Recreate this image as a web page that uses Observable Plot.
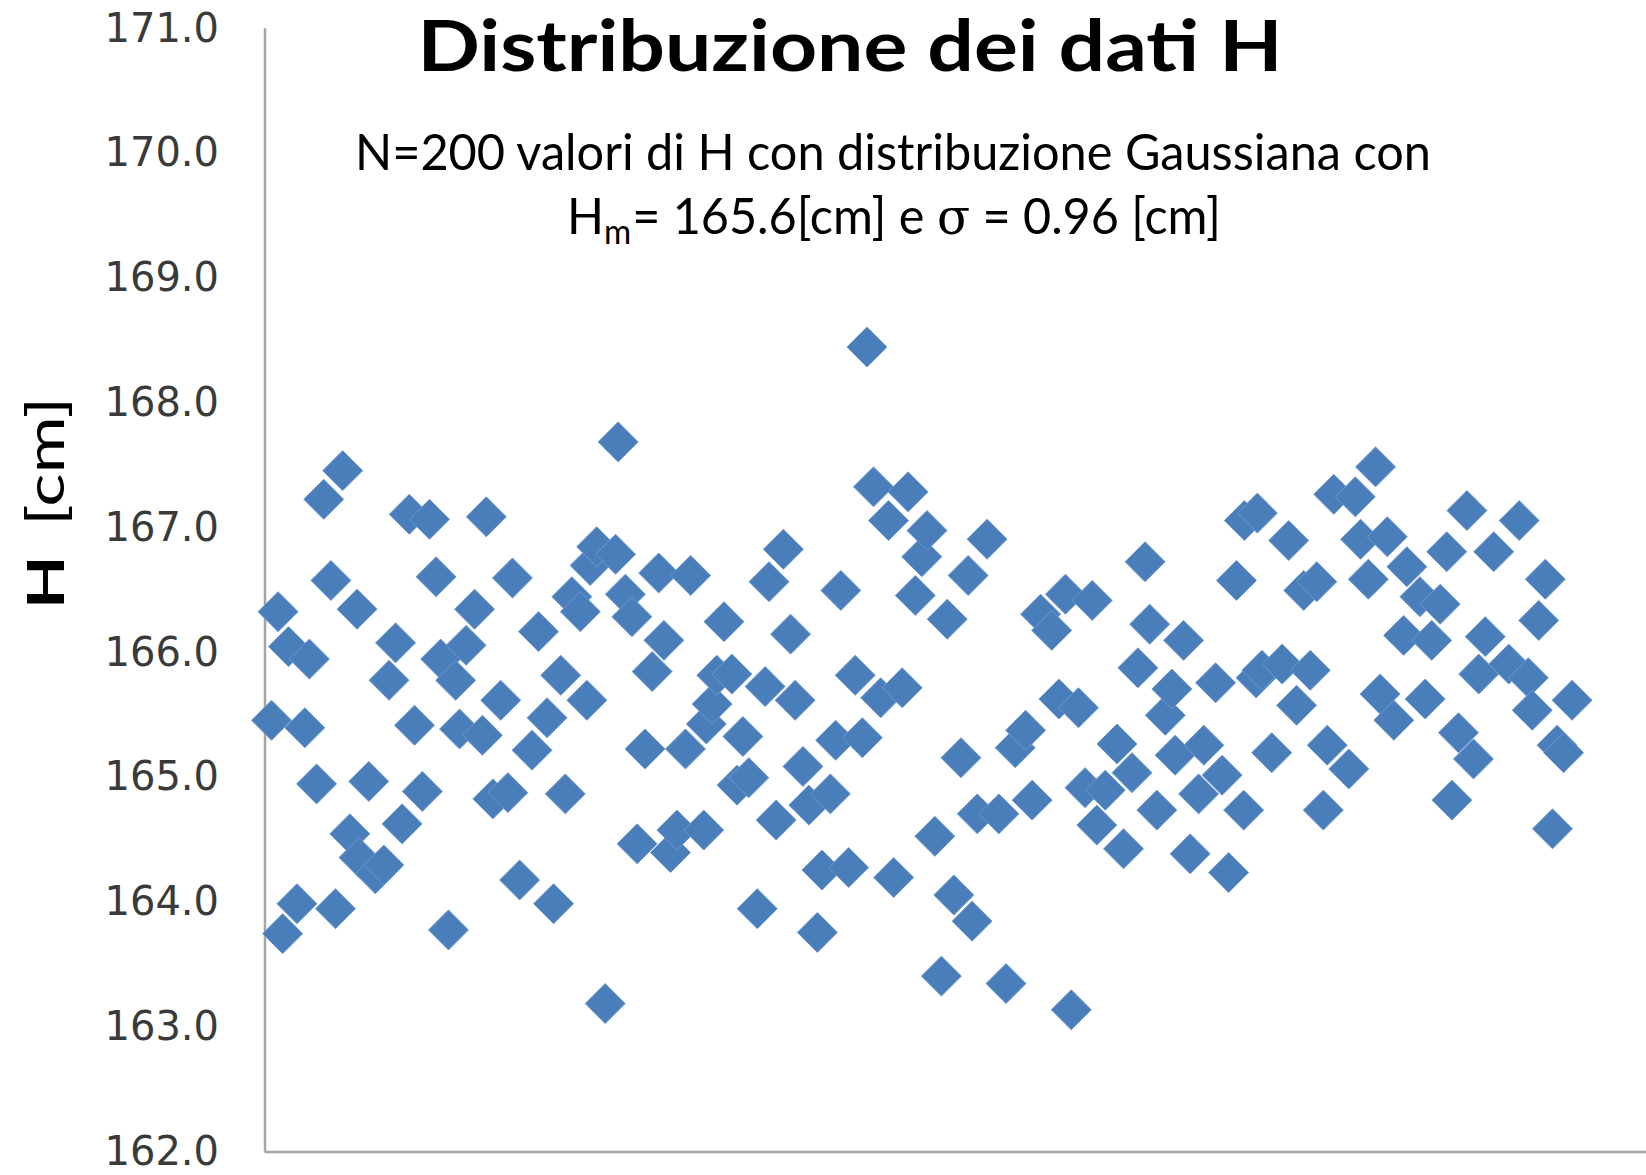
<!DOCTYPE html>
<html><head><meta charset="utf-8">
<script src="https://cdn.jsdelivr.net/npm/d3@7"></script>
<script src="https://cdn.jsdelivr.net/npm/@observablehq/plot@0.6"></script>
<style>
body{margin:0;background:#fff;}
#wrap{position:relative;width:1646px;height:1175px;overflow:hidden;background:#fff;}
#overlay{position:absolute;left:0;top:0;pointer-events:none;}
#overlay text{white-space:pre;}
</style></head><body>
<div id="wrap"><div id="chart"></div>
<svg id="overlay" width="1646" height="1175" xmlns="http://www.w3.org/2000/svg"></svg>
</div>
<script>
const idx = [1.0,2.0,2.7,3.6,4.9,6.1,6.8,7.9,9.0,10.1,10.8,11.9,13.0,14.1,14.4,15.9,16.9,18.2,19.0,20.0,
21.0,22.1,22.9,24.1,25.2,26.2,26.9,28.1,29.2,29.8,30.8,32.1,33.3,33.9,34.9,36.1,37.2,37.9,39.0,40.9,
41.9,43.2,44.2,45.3,46.0,47.0,48.3,49.3,49.8,50.8,52.1,53.7,54.1,55.2,56.2,57.0,58.2,59.3,60.3,61.1,
62.1,63.1,64.4,65.2,67.2,67.6,68.5,69.2,70.3,71.5,72.3,73.2,74.1,75.4,76.6,77.2,78.3,79.4,80.5,81.2,
82.4,83.3,84.6,85.3,86.6,87.4,88.2,89.4,90.4,91.5,92.2,93.2,94.3,95.5,96.3,97.6,98.5,99.6,100.6,101.4,
102.6,103.6,104.5,105.5,106.6,107.7,108.3,109.1,110.6,112.4,113.5,114.9,116.5,117.5,118.8,120.5,121.6,122.6,123.5,124.6,
125.6,126.7,127.4,128.7,130.5,131.5,132.8,133.7,134.8,135.5,136.6,137.9,138.9,139.4,140.7,141.7,143.0,143.8,145.6,146.6,
147.6,148.8,149.9,150.0,151.8,152.0,152.7,154.2,155.8,156.8,158.0,159.1,160.1,161.1,162.1,162.7,163.7,166.0,167.0,167.8,
169.0,170.1,170.8,171.9,172.9,174.4,174.9,176.9,177.7,178.7,180.0,181.0,181.8,182.8,184.1,185.1,185.9,186.9,188.2,190.5,
192.1,193.5,194.1,195.1,196.1,197.2,197.9,198.9,200.2];
// H values [cm]
const H = [165.46,166.33,163.75,166.05,163.99,165.40,165.95,164.95,167.23,166.58,163.95,167.46,164.55,166.35,164.36,164.97,164.23,164.30,165.78,166.08,
164.63,167.11,165.42,164.89,167.07,166.61,165.95,163.78,165.78,165.39,166.06,166.35,165.34,167.09,164.83,165.62,164.88,166.60,164.18,165.22,
166.17,165.48,163.99,165.82,164.87,166.45,166.33,165.62,166.70,166.85,163.19,166.79,167.69,166.47,166.29,164.47,165.23,165.85,166.64,166.10,
164.40,164.58,165.23,166.62,164.58,165.43,165.59,165.82,166.25,165.83,164.94,165.33,165.00,163.95,165.73,166.57,164.66,166.83,166.15,165.62,
165.09,164.78,163.76,164.26,164.87,165.30,166.50,164.28,165.82,165.32,168.45,167.33,165.64,167.06,164.20,165.72,167.29,166.46,166.77,166.98,
164.53,163.41,166.27,164.06,165.16,166.62,163.85,164.71,166.91,164.71,163.35,165.24,165.38,164.82,166.31,166.18,165.63,166.47,163.14,165.56,
164.92,166.42,164.62,164.90,165.27,164.43,165.04,165.88,166.73,166.23,164.74,165.50,165.71,165.18,166.10,164.39,164.87,165.26,165.76,165.02,
164.24,166.58,164.74,167.06,165.80,167.12,165.86,165.20,165.91,166.90,165.58,166.50,165.86,166.57,164.74,165.26,167.27,165.07,167.25,166.91,
166.59,167.49,165.67,166.93,165.46,166.14,166.69,166.45,165.63,166.10,166.39,166.81,164.82,165.36,167.14,165.15,165.83,166.13,166.81,165.91,
167.06,165.80,165.54,166.26,166.59,164.59,165.26,165.20,165.62];
const yTicks = [162,163,164,165,166,167,168,169,170,171];

const titleText = "Distribuzione dei dati H";
const sub1 = "N=200 valori di H con distribuzione Gaussiana con";
const sub2Parts = ["H", "m", "= 165.6[cm] e ", "σ", " = 0.96 [cm]"];

const data = idx.map((d, i) => ({i: d, h: H[i]}));

const chart = Plot.plot({
  width: 1646, height: 1175,
  marginLeft: 264.5, marginRight: 0, marginTop: 28.3, marginBottom: 23.4,
  x: {domain: [0, 211.6], axis: null},
  y: {domain: [162, 171]},
  style: {fontFamily: "'DejaVu Sans', Verdana, sans-serif", fontSize: "40px", color: "#3a3a3a", background: "white"},
  marks: [
    Plot.axisY({ticks: yTicks, tickSize: 0, tickPadding: 46, tickFormat: d => d.toFixed(1), label: null, fill: "#3a3a3a"}),
    Plot.ruleX([0], {stroke: "#a6a6a6", strokeWidth: 2.5}),
    Plot.ruleY([162], {stroke: "#a6a6a6", strokeWidth: 2.5}),
    Plot.dot(data, {x: "i", y: "h", symbol: "diamond2", r: 18, fill: "#4a7ebb", stroke: "#6b98cf", strokeWidth: 1})
  ]
});
document.getElementById("chart").appendChild(chart);

const NS = "http://www.w3.org/2000/svg";
const ov = document.getElementById("overlay");
ov.innerHTML = `
<text x="850" y="71" text-anchor="middle" font-family="Lato, 'Open Sans', sans-serif" font-weight="700" font-size="70" fill="#000" textLength="865" lengthAdjust="spacingAndGlyphs">${titleText}</text>
<text x="893" y="170" text-anchor="middle" font-family="Lato, 'Open Sans', sans-serif" font-size="50" fill="#000" textLength="1076" lengthAdjust="spacingAndGlyphs">${sub1}</text>
<text transform="translate(64,503) rotate(-90)" text-anchor="middle" font-family="Lato, 'Open Sans', sans-serif" font-size="52" fill="#000" textLength="212" lengthAdjust="spacingAndGlyphs"><tspan font-weight="700">H</tspan><tspan dx="22">[cm]</tspan></text>
`;
// second subtitle line laid out as separate pieces (subscript m, Greek sigma)
const g = document.createElementNS(NS, "g");
ov.appendChild(g);
const styles = [
  {fs: 50, dy: 0, ff: "Lato, 'Open Sans', sans-serif"},
  {fs: 34, dy: 10, ff: "Lato, 'Open Sans', sans-serif"},
  {fs: 50, dy: 0, ff: "Lato, 'Open Sans', sans-serif"},
  {fs: 50, dy: 0, ff: "'DejaVu Serif', 'Liberation Serif', serif"},
  {fs: 50, dy: 0, ff: "Lato, 'Open Sans', sans-serif"}
];
let cx = 0;
sub2Parts.forEach((t, k) => {
  const el = document.createElementNS(NS, "text");
  el.textContent = t;
  el.setAttribute("x", cx);
  el.setAttribute("y", 234 + styles[k].dy);
  el.setAttribute("font-size", styles[k].fs);
  el.setAttribute("font-family", styles[k].ff);
  el.setAttribute("fill", "#000");
  g.appendChild(el);
  cx += el.getComputedTextLength() + (k === 1 ? 1 : 0);
});
const target = 654, left = 894 - target / 2;
g.setAttribute("transform", `translate(${left},0) scale(${target / cx},1)`);
</script>
</body></html>
